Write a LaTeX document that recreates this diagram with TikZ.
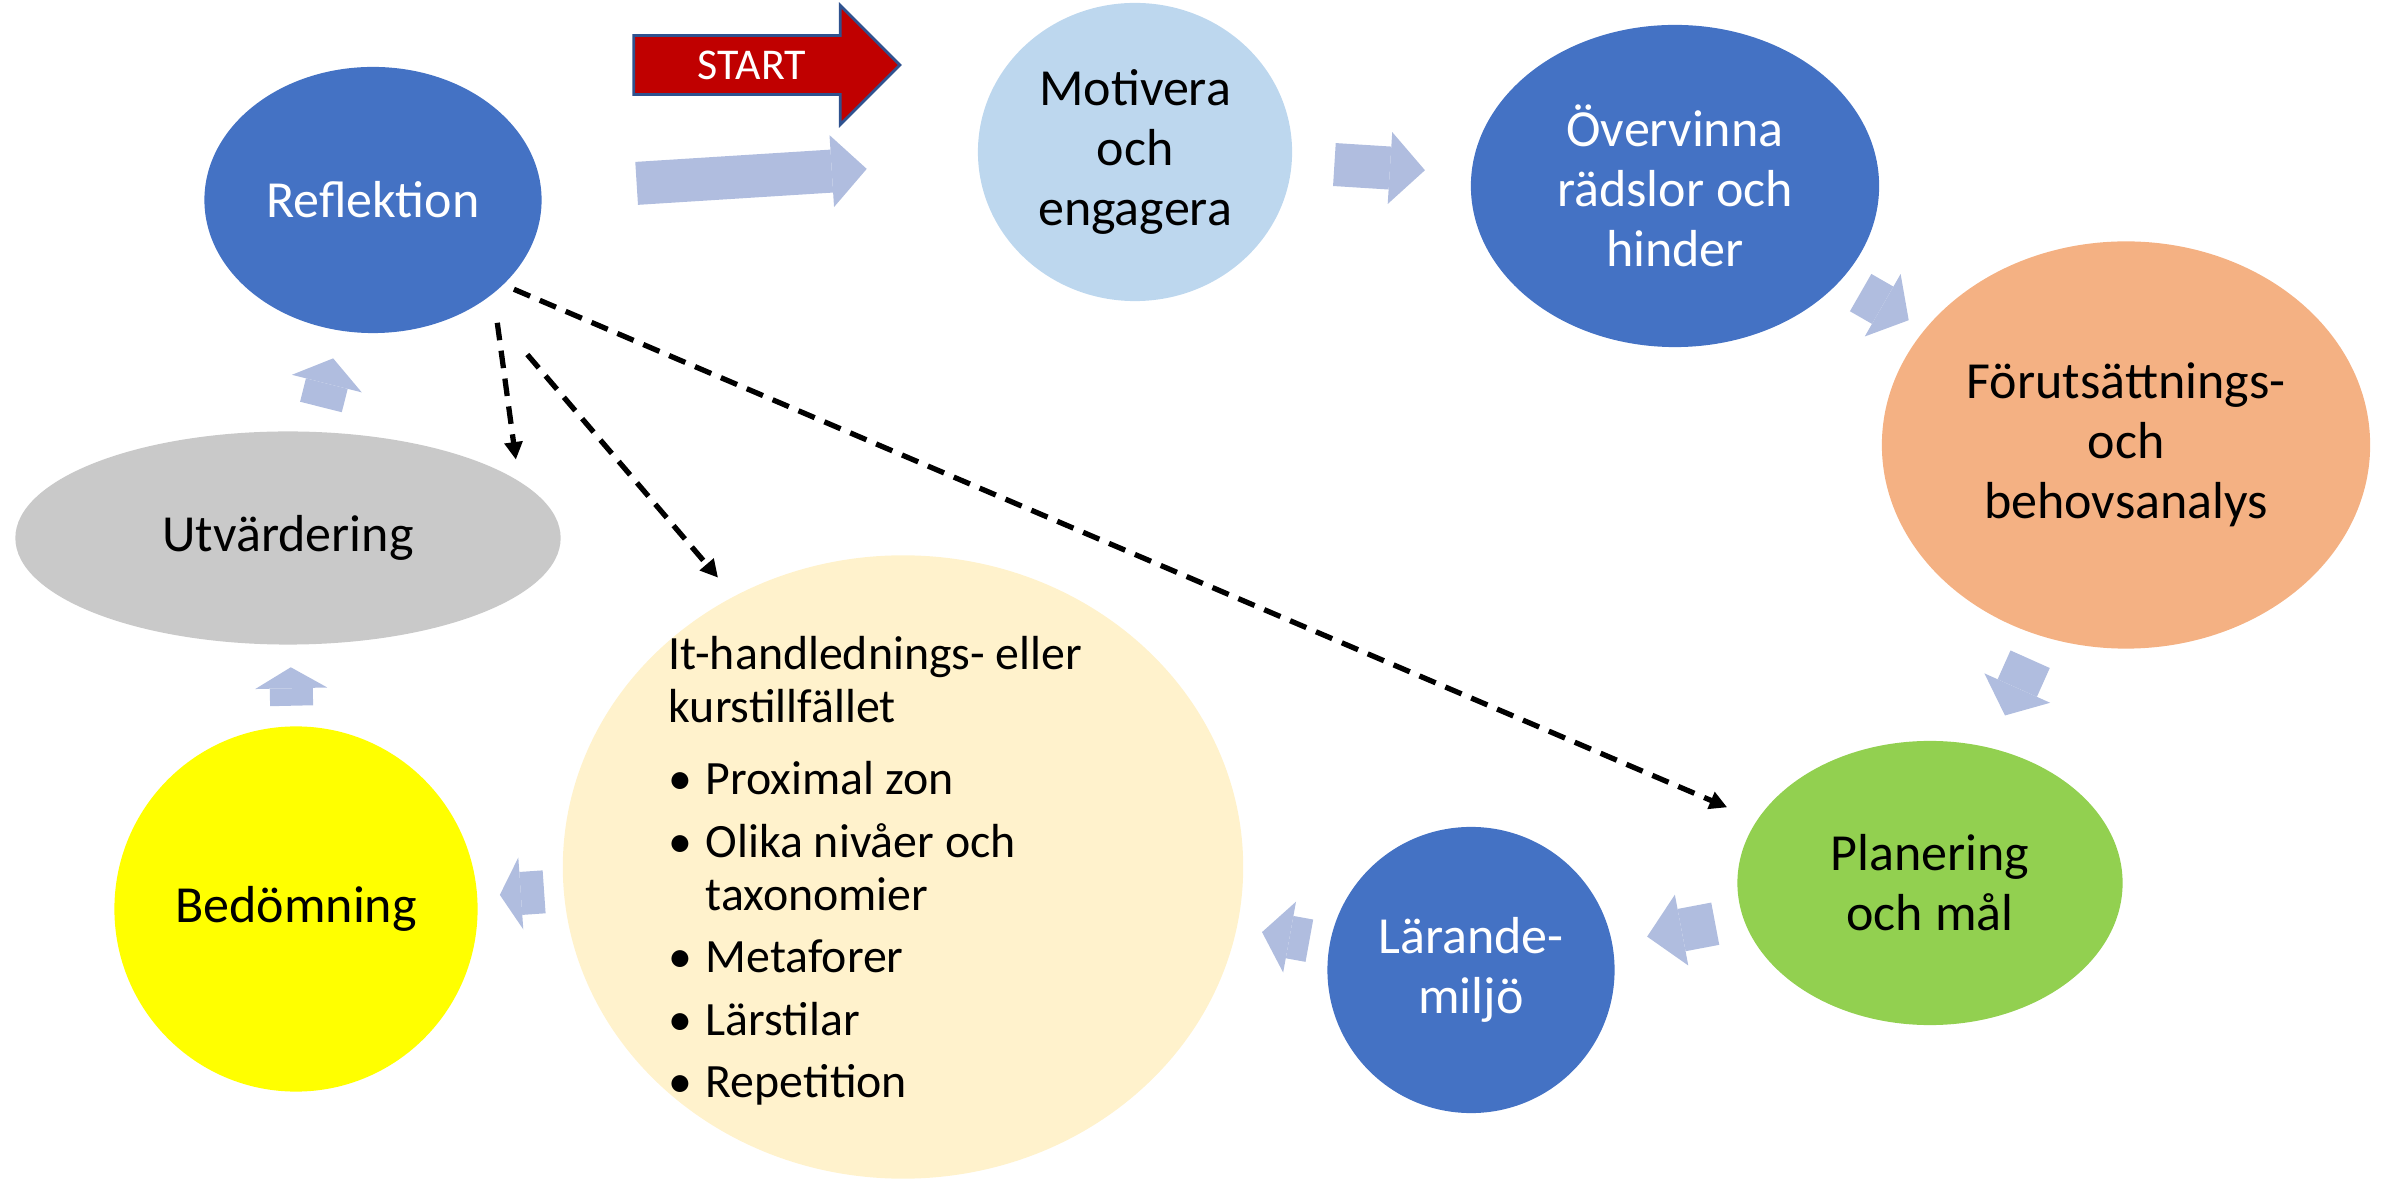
\documentclass[tikz,border=0pt]{standalone}
\usepackage{fontspec}
\setmainfont{Carlito}
\usetikzlibrary{arrows.meta,shapes.geometric,shapes.arrows}

\definecolor{darkblue}{HTML}{4472C4}
\definecolor{paleblue}{HTML}{BDD7EE}
\definecolor{peach}{HTML}{F4B183}
\definecolor{leaf}{HTML}{92D050}
\definecolor{cream}{HTML}{FFF2CC}
\definecolor{sun}{HTML}{FFFF00}
\definecolor{stone}{HTML}{C9C9C9}
\definecolor{flowblue}{HTML}{B0BDDF}
\definecolor{startred}{HTML}{C00000}
\definecolor{startline}{HTML}{2F528F}

\tikzset{
    phase/.style={ellipse, inner sep=0pt, align=center, font=\fontsize{14.8}{17}\selectfont},
    flow/.style={draw=flowblue, line width=0.43cm, -{Triangle[length=#1, width=0.72cm, line width=0pt]}},
    flow/.default=0.35cm,
    link/.style={draw=black, line width=1.5pt, dash pattern=on 5pt off 3pt, -{Triangle[length=5pt, width=5pt]}},
    startarrow/.style={single arrow, draw=startline, line width=0.8pt, fill=startred, text=white,
        font=\fontsize{12.5}{14}\selectfont, text height=8pt, text depth=0pt, inner ysep=4pt,
        minimum height=2.66cm, minimum width=1.16cm, single arrow head extend=0.3cm},
}

\begin{document}
\begin{tikzpicture}[x=0.01cm, y=-0.01cm]

    \useasboundingbox (0,0) rectangle (2385,1180);

    \node[phase, fill=darkblue, text=white, minimum width=3.37cm, minimum height=2.66cm] (refl) at (373,200) {Reflektion};
    \node[phase, fill=paleblue, minimum width=3.14cm, minimum height=2.98cm] (motiv) at (1135,152) {Motivera\\och\\engagera};
    \node[phase, fill=darkblue, text=white, minimum width=4.08cm, minimum height=3.22cm] (overv) at (1675,186) {Övervinna\\rädslor och\\hinder};
    \node[phase, fill=peach, minimum width=4.88cm, minimum height=4.07cm] (forut) at (2126,445) {Förutsättnings-\\och\\behovsanalys};
    \node[phase, fill=leaf, minimum width=3.85cm, minimum height=2.84cm] (plan) at (1930,883) {Planering\\och mål};
    \node[phase, fill=darkblue, text=white, minimum width=2.87cm, minimum height=2.86cm] (laran) at (1471,970) {Lärande-\\miljö};
    \node[phase, fill=cream, minimum width=6.80cm, minimum height=6.23cm] (tillf) at (903,867) {};
    \node[phase, fill=sun, minimum width=3.63cm, minimum height=3.65cm] (bedom) at (296,909) {Bedömning};
    \node[phase, fill=stone, minimum width=5.45cm, minimum height=2.13cm] (utv) at (288,538) {Utvärdering};

    \node[anchor=north west, inner sep=0pt, align=left, font=\fontsize{13.6}{15}\selectfont] (tillftext) at (668,636) {It-handlednings- eller\\kurstillfället\\[5.5pt]
        \makebox[0.37cm][l]{\textbullet}Proximal zon\\[2.8pt]
        \makebox[0.37cm][l]{\textbullet}Olika nivåer och\\
        \hspace*{0.37cm}taxonomier\\[2.8pt]
        \makebox[0.37cm][l]{\textbullet}Metaforer\\[2.8pt]
        \makebox[0.37cm][l]{\textbullet}Lärstilar\\[2.8pt]
        \makebox[0.37cm][l]{\textbullet}Repetition};

    \node[startarrow] (start) at (752,65) {START};

    \draw[flow, shorten <=0.95cm, shorten >=1.11cm] (refl) -- (motiv);
    \draw[flow, shorten <=0.42cm, shorten >=0.46cm] (motiv) -- (overv);
    \draw[flow=0.3cm, shorten <=0.23cm, shorten >=0.18cm] (overv) -- (forut);
    \draw[flow=0.3cm, shorten <=0.25cm, shorten >=0.35cm] (forut) -- (plan);
    \draw[flow, shorten <=0.28cm, shorten >=0.35cm] (plan) -- (laran);
    \draw[flow=0.28cm, shorten <=0.20cm, shorten >=0.25cm] (laran) -- (tillf);
    \draw[flow=0.21cm, shorten <=0.19cm, shorten >=0.22cm] (tillf) -- (bedom);
    \draw[flow=0.21cm, shorten <=0.20cm, shorten >=0.22cm] (bedom) -- (utv);
    \draw[flow=0.26cm, shorten <=0.25cm, shorten >=0.28cm] (utv) -- (refl);

    \draw[link, shorten <=0.29cm, shorten >=0.21cm] (refl.-38.6) -- (utv.14.7);
    \draw[link, shorten <=0.69cm, shorten >=0.24cm] (refl.-43.6) -- (tillf.122);
    \draw[link, shorten <=0.11cm, shorten >=0.32cm] (refl.-33.6) -- (plan.160.5);

\end{tikzpicture}
\end{document}
